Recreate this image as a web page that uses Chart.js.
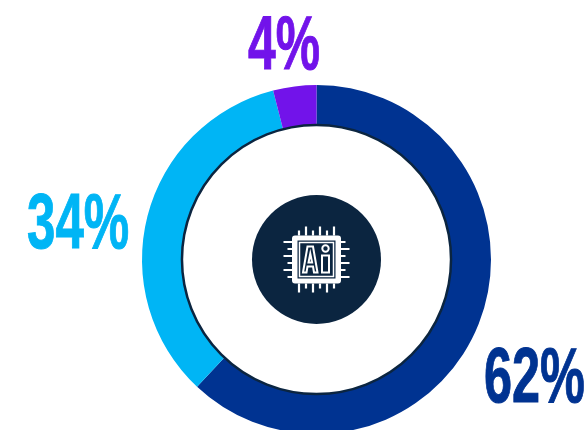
<!DOCTYPE html>
<html>
<head>
<meta charset="utf-8">
<title>AI donut</title>
<script src="https://cdn.jsdelivr.net/npm/chart.js@4/dist/chart.umd.min.js"></script>
<style>
html, body { margin: 0; padding: 0; background: #fff; overflow: hidden; }
#wrap { position: absolute; left: 0; top: 0; width: 633px; height: 519px; }
</style>
</head>
<body>
<div id="wrap"><canvas id="myChart"></canvas></div>
<script>
const categories = ['Navy', 'Sky', 'Violet'];
const values = [62, 34, 4];
const colors = ['#003391', '#00B5F5', '#7213EA'];

const dark = '#0B2540';

// big percent labels, one per slice
const labelSpots = [
  { x: 484, y: 402, size: 77 },
  { x: 27, y: 248, size: 78 },
  { x: 248, y: 69, size: 76 }
];

const centerPlugin = {
  id: 'centerPlugin',
  afterDatasetsDraw(chart) {
    const c = chart.ctx;
    const arc = chart.getDatasetMeta(0).data[0];
    const cx = arc.x, cy = arc.y;

    // line round the hole
    c.save();
    c.strokeStyle = dark;
    c.lineWidth = 2.5;
    c.beginPath();
    c.arc(cx, cy, arc.innerRadius, 0, Math.PI * 2);
    c.stroke();

    // middle disc
    c.fillStyle = dark;
    c.beginPath();
    c.arc(cx, cy, 64.5, 0, Math.PI * 2);
    c.fill();

    // chip icon
    c.translate(cx, cy);
    c.fillStyle = '#fff';
    c.strokeStyle = '#fff';
    c.beginPath();
    c.roundRect(-24.5, -24, 49, 48, 3);
    c.fill();
    c.fillStyle = dark;
    c.fillRect(-19, -19, 38, 38);
    c.lineWidth = 1.5;
    c.strokeRect(-17, -17, 34, 34);
    c.lineWidth = 2.2;
    const pins = [[-17.5, 5], [-10.5, 9], [-3.5, 5], [3.5, 9], [10.5, 5], [17.5, 9]];
    pins.forEach(p => {
      const len = p[1];
      c.beginPath();
      c.moveTo(p[0], -24); c.lineTo(p[0], -24 - len);
      c.moveTo(-p[0], 24); c.lineTo(-p[0], 24 + len);
      c.moveTo(-24, -p[0]); c.lineTo(-24 - len, -p[0]);
      c.moveTo(24, p[0]); c.lineTo(24 + len, p[0]);
      c.stroke();
    });
    // the A
    c.lineWidth = 2;
    c.lineJoin = 'miter';
    c.beginPath();
    c.moveTo(-13.5, 13); c.lineTo(-9, -13); c.lineTo(-3.5, -13); c.lineTo(1, 13);
    c.lineTo(-2.5, 13); c.lineTo(-3.5, 7); c.lineTo(-9, 7); c.lineTo(-10, 13);
    c.closePath();
    c.stroke();
    c.beginPath();
    c.moveTo(-6.2, -6); c.lineTo(-8, 3); c.lineTo(-4.4, 3);
    c.closePath();
    c.stroke();
    // the i
    c.strokeRect(5.5, -4, 7, 17);
    c.beginPath();
    c.arc(9, -11, 3.2, 0, Math.PI * 2);
    c.stroke();
    c.restore();

    // percent labels
    values.forEach((v, i) => {
      const s = labelSpots[i];
      c.save();
      c.fillStyle = colors[i];
      c.strokeStyle = colors[i];
      c.lineWidth = 1;
      c.font = 'bold ' + s.size + 'px "Liberation Sans Narrow", "Liberation Sans", sans-serif';
      c.textBaseline = 'alphabetic';
      c.translate(s.x, s.y);
      c.scale(0.655, 1);
      c.fillText(v + '%', 0, 0);
      c.strokeText(v + '%', 0, 0);
      c.restore();
    });
  }
};

new Chart(document.getElementById('myChart'), {
  type: 'doughnut',
  data: {
    labels: categories,
    datasets: [{
      data: values,
      backgroundColor: colors,
      borderWidth: 0
    }]
  },
  options: {
    responsive: true,
    maintainAspectRatio: false,
    animation: false,
    radius: 174.5,
    cutout: '77.1%',
    layout: { padding: 0 },
    plugins: {
      legend: { display: false },
      tooltip: { enabled: false }
    }
  },
  plugins: [centerPlugin]
});
</script>
</body>
</html>
